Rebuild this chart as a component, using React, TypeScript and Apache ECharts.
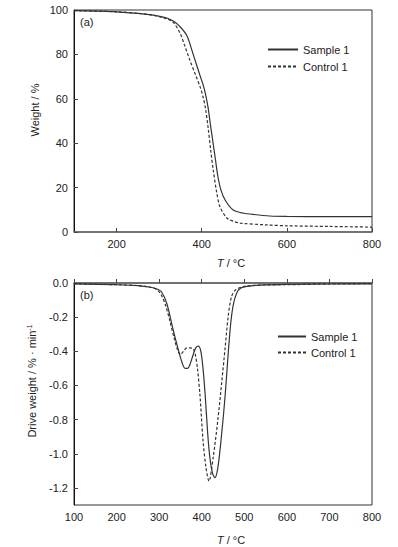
import React, { useEffect, useRef } from "react";
import * as echarts from "echarts";

// TGA (a)
const sampleTgaT = [100, 150, 200, 250, 286, 318, 335, 349, 365, 380, 396, 403, 409, 415, 420, 426, 432, 438, 445, 455, 473, 490, 513, 560, 600, 700, 800];
const sampleTgaW = [99.7, 99.5, 99.2, 98.5, 97.7, 96.4, 94.8, 92.5, 88.5, 80, 70.5, 66.5, 62, 56, 49, 41, 33, 25, 19, 14.4, 10, 8.8, 8.1, 7.2, 7.0, 6.9, 6.9];
const controlTgaT = [100, 200, 250, 286, 318, 333, 349, 360, 372, 385, 396, 403, 409, 415, 421, 427, 435, 443, 459, 475, 490, 553, 600, 700, 800];
const controlTgaW = [99.7, 99.2, 98.5, 97.6, 96, 94.5, 89.6, 84, 77.5, 71, 65.5, 61, 55.5, 47, 37, 28, 18, 11.3, 6.3, 4.8, 4.0, 3.2, 2.8, 2.5, 2.2];

// DTG (b)
const sampleDtgT = [100, 200, 250, 280, 295, 305, 318, 333, 345, 353, 361, 367, 372, 380, 386, 392, 398, 403, 408, 414, 419, 425, 431, 438, 447, 455, 462, 468, 474, 482, 492, 506, 537, 600, 700, 800];
const sampleDtgV = [-0.005, -0.01, -0.015, -0.025, -0.035, -0.05, -0.12, -0.275, -0.39, -0.46, -0.5, -0.5, -0.48, -0.42, -0.38, -0.37, -0.4, -0.5, -0.65, -0.88, -1.02, -1.11, -1.14, -1.08, -0.88, -0.66, -0.42, -0.24, -0.13, -0.06, -0.03, -0.02, -0.012, -0.008, -0.006, -0.005];
const controlDtgT = [100, 200, 250, 280, 295, 305, 315, 325, 335, 343, 350, 357, 365, 372, 380, 385, 390, 396, 403, 410, 417, 427, 438, 447, 455, 462, 470, 480, 500, 540, 600, 700, 800];
const controlDtgV = [-0.005, -0.01, -0.015, -0.025, -0.04, -0.07, -0.13, -0.22, -0.32, -0.39, -0.42, -0.4, -0.38, -0.38, -0.385, -0.42, -0.5, -0.66, -0.92, -1.08, -1.16, -1.02, -0.8, -0.58, -0.38, -0.2, -0.08, -0.04, -0.02, -0.012, -0.01, -0.006, -0.004];

const topXLabels = [200, 400, 600, 800];
const bottomYLabels = [0, -0.2, -0.4, -0.6, -0.8, -1.0, -1.2];

const zip = (xs: number[], ys: number[]) => xs.map((x, i) => [x, ys[i]]);

const FONT = "'Liberation Sans', Arial, sans-serif";
const TXT = "#222";

export default function App() {
  const ref = useRef<HTMLDivElement>(null);
  useEffect(() => {
    if (!ref.current) return;
    const chart = echarts.init(ref.current, null, { renderer: "svg" });
    const labelStyle = { color: TXT, fontSize: 11, fontFamily: FONT };
    const tick = { show: true, inside: true, length: 4, lineStyle: { color: "#444", width: 1 } };
    const lineS = (name: string, data: number[][], dashed: boolean, xi: number) => ({
      name,
      type: "line",
      xAxisIndex: xi,
      yAxisIndex: xi,
      data,
      showSymbol: false,
      symbol: "none",
      smooth: 0.3,
      lineStyle: { color: "#333", width: 1.2, type: dashed ? [3, 2] : "solid" },
      itemStyle: { color: "#333" },
    });
    const legendBase = {
      orient: "vertical",
      icon: "inherit",
      itemHeight: 10,
      itemStyle: { opacity: 0 },
      textStyle: { ...labelStyle, fontSize: 11 },
      data: ["Sample 1", "Control 1"],
    };
    const option: any = {
      animation: false,
      textStyle: { fontFamily: FONT },
      grid: [
        { left: 74, top: 10, width: 298, height: 222, show: true, borderColor: "#333", borderWidth: 1 },
        { left: 74, top: 283, width: 298, height: 222, show: true, borderColor: "#333", borderWidth: 1 },
      ],
      xAxis: [
        {
          type: "value", gridIndex: 0, min: 100, max: 800,
          axisLine: { show: true, lineStyle: { color: "#666", width: 1.5 } },
          axisTick: { ...tick, customValues: topXLabels },
          axisLabel: { ...labelStyle, margin: 6, customValues: topXLabels },
          splitLine: { show: false },
        },
        {
          type: "value", gridIndex: 1, min: 100, max: 800, interval: 100,
          axisLine: { show: true, lineStyle: { color: "#666", width: 1.5 } },
          axisTick: tick,
          axisLabel: { ...labelStyle, margin: 6 },
          splitLine: { show: false },
        },
      ],
      yAxis: [
        {
          type: "value", gridIndex: 0, min: 0, max: 100, interval: 20,
          axisLine: { show: true, lineStyle: { color: "#111", width: 1 } },
          axisTick: tick,
          axisLabel: { ...labelStyle, margin: 6 },
          splitLine: { show: false },
        },
        {
          type: "value", gridIndex: 1, min: -1.3, max: 0,
          axisLine: { show: true, lineStyle: { color: "#111", width: 1 } },
          axisTick: { ...tick, customValues: bottomYLabels },
          axisLabel: { ...labelStyle, margin: 6, customValues: bottomYLabels, formatter: (v: number) => v.toFixed(1) },
          splitLine: { show: false },
        },
      ],
      legend: [
        { ...legendBase, left: 262, top: 39, itemWidth: 30, itemGap: 6 },
        { ...legendBase, left: 272, top: 326, itemWidth: 28, itemGap: 5 },
      ],
      series: [
        lineS("Sample 1", zip(sampleTgaT, sampleTgaW), false, 0),
        lineS("Control 1", zip(controlTgaT, controlTgaW), true, 0),
        lineS("Sample 1", zip(sampleDtgT, sampleDtgV), false, 1),
        lineS("Control 1", zip(controlDtgT, controlDtgV), true, 1),
      ],
      graphic: [
        { type: "text", left: 80, top: 16, style: { text: "(a)", fontSize: 11, fontFamily: FONT, fill: TXT } },
        { type: "text", left: 80, top: 289, style: { text: "(b)", fontSize: 11, fontFamily: FONT, fill: TXT } },
        {
          type: "text", x: 35, y: 110, rotation: Math.PI / 2,
          style: { text: "Weight / %", fontSize: 11, fontFamily: FONT, fill: TXT, align: "center", verticalAlign: "middle" },
        },
        {
          type: "text", x: 32, y: 381, rotation: Math.PI / 2,
          style: {
            text: "Drive weight / % · min{s|-1}", fontSize: 11, fontFamily: FONT, fill: TXT, align: "center", verticalAlign: "middle",
            rich: { s: { fontSize: 7, fontFamily: FONT, fill: TXT, verticalAlign: "top", padding: [0, 0, 6, 0] } },
          },
        },
        {
          type: "text", x: 231, y: 263,
          style: {
            text: "{i|T} / °C", fontSize: 11, fontFamily: FONT, fill: TXT, align: "center", verticalAlign: "middle",
            rich: { i: { fontStyle: "italic", fontSize: 11, fontFamily: FONT, fill: TXT } },
          },
        },
        {
          type: "text", x: 231, y: 540,
          style: {
            text: "{i|T} / °C", fontSize: 11, fontFamily: FONT, fill: TXT, align: "center", verticalAlign: "middle",
            rich: { i: { fontStyle: "italic", fontSize: 11, fontFamily: FONT, fill: TXT } },
          },
        },
      ],
    };
    chart.setOption(option);
    return () => chart.dispose();
  }, []);
  return (
    <div
      ref={ref}
      style={{ position: "fixed", left: 0, top: 0, width: 398, height: 547, background: "#fff" }}
    />
  );
}
